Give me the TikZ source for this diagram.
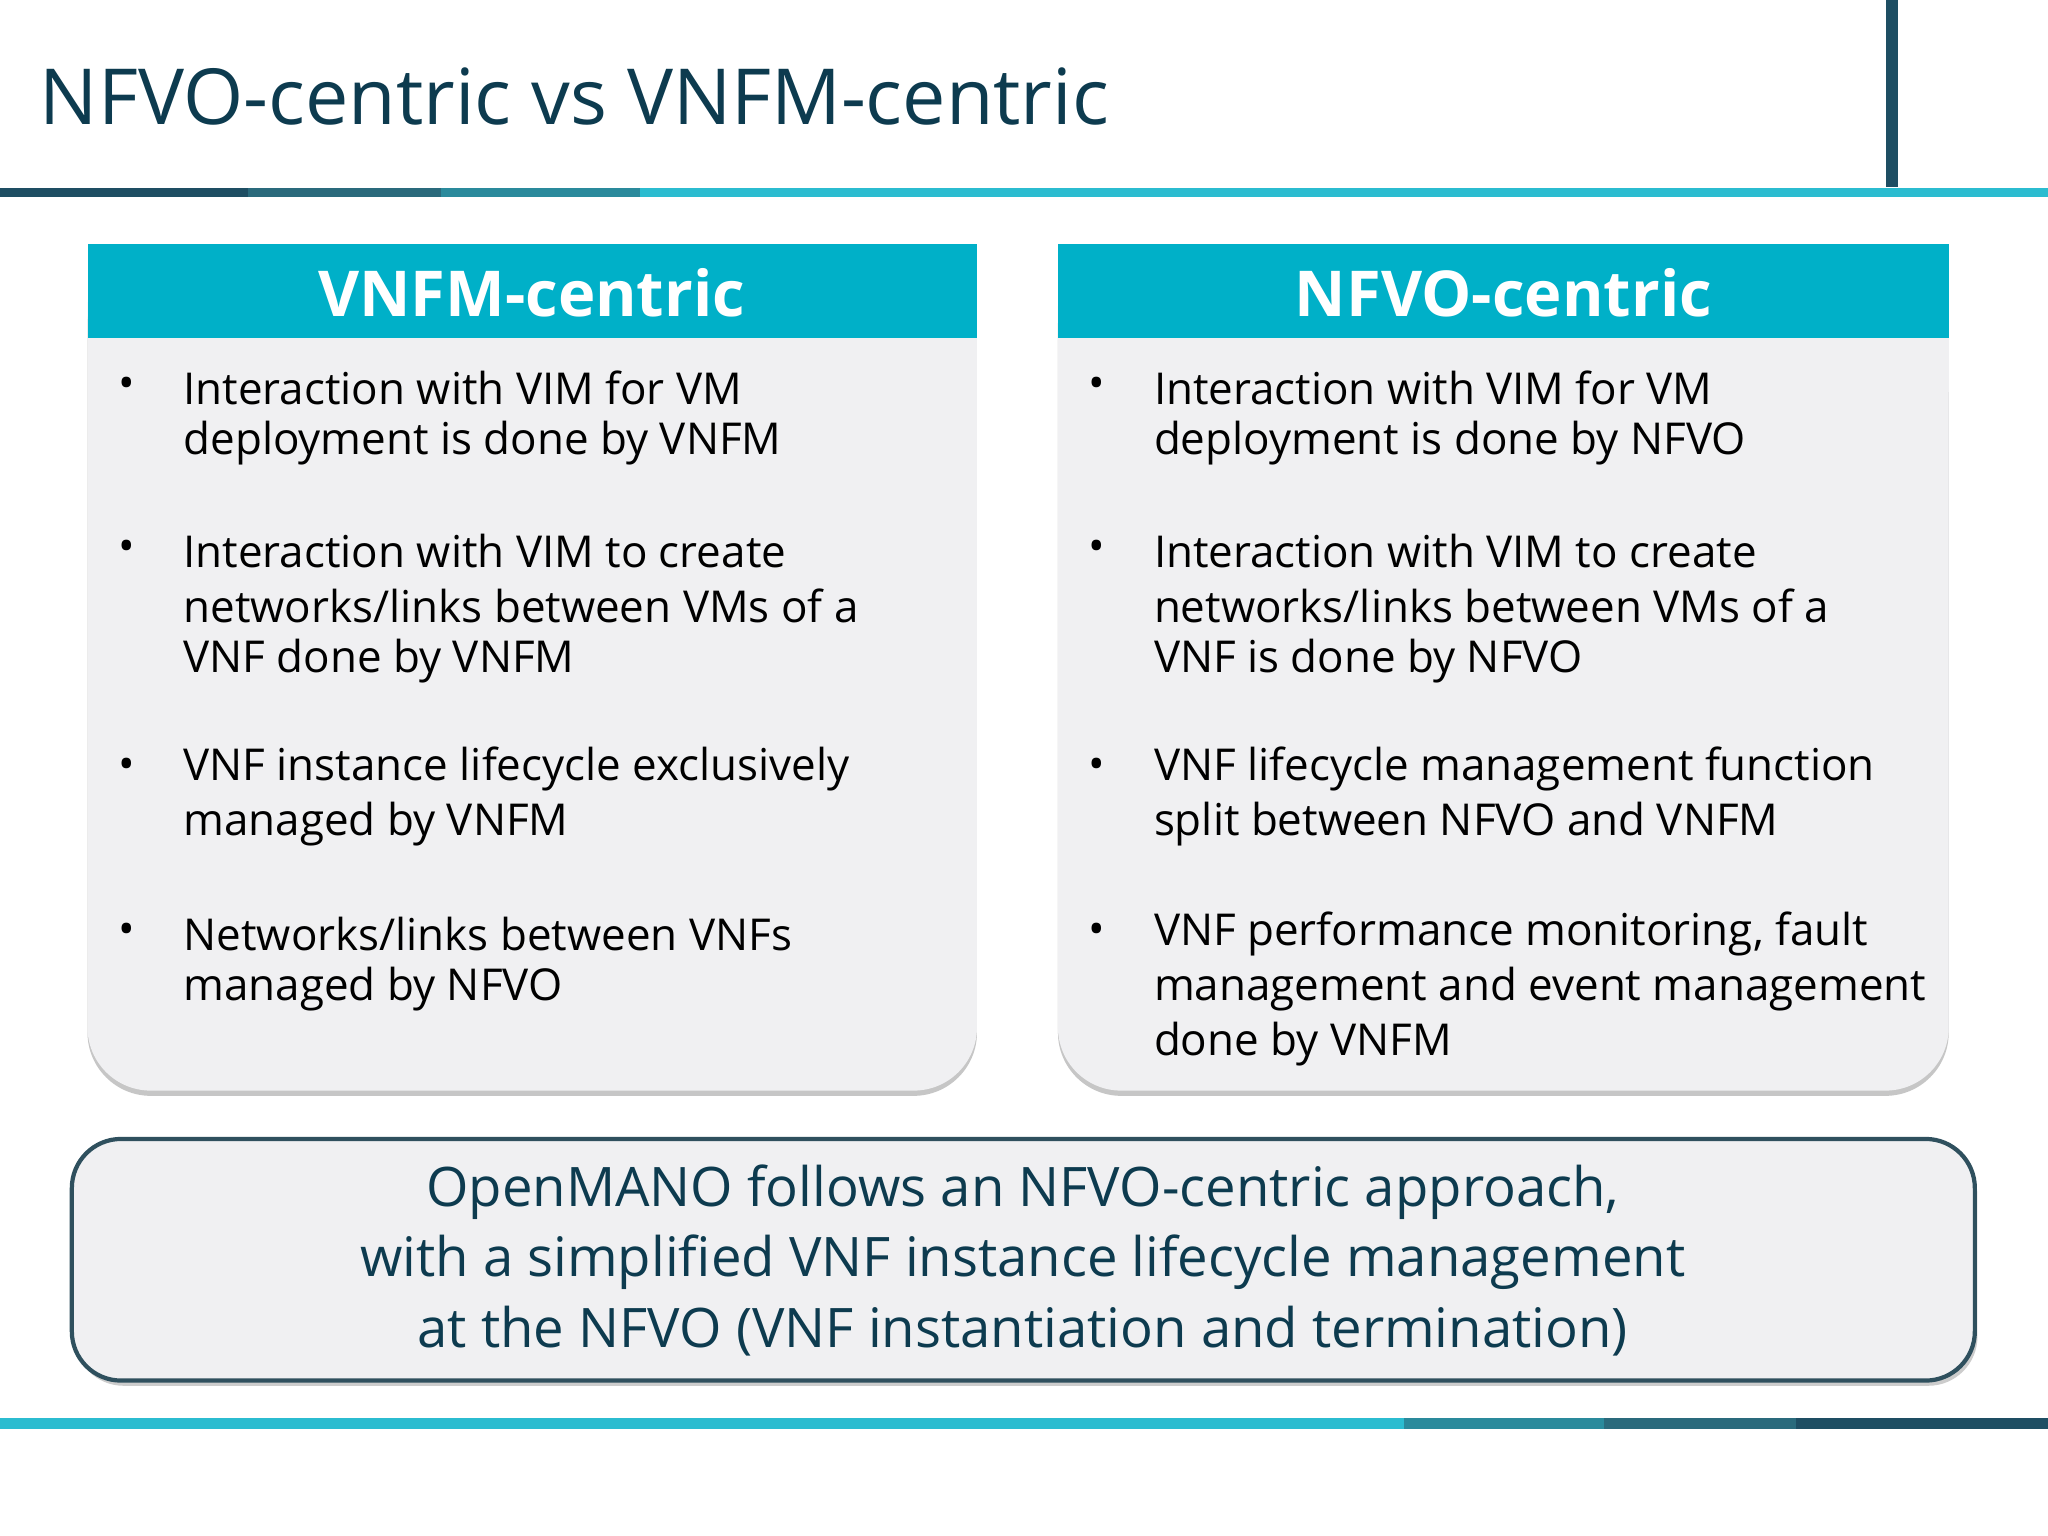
\documentclass[tikz,border=0pt]{standalone}
\usepackage{fontspec}
\setmainfont{Open Sans}
\usetikzlibrary{shadows}
\definecolor{dk}{HTML}{0D3B4F}
\definecolor{cy}{HTML}{00B0C8}
\definecolor{lc}{HTML}{2BBCD0}
\definecolor{m1}{HTML}{1E4E63}
\definecolor{m2}{HTML}{2A6A7C}
\definecolor{m3}{HTML}{2A8A9C}
\definecolor{bg}{HTML}{F0F0F2}
\tikzset{
 txt/.style={anchor=west,inner sep=0pt,font=\fontsize{12.5}{14}\selectfont,text=black},
 bul/.style={anchor=center,inner sep=0pt,font=\fontsize{12.5}{14}\selectfont},
 hdr/.style={inner sep=0pt,font=\fontsize{18}{20}\selectfont\bfseries,text=white},
 btxt/.style={inner sep=0pt,font=\fontsize{15.5}{18}\selectfont,text=dk}
}
\begin{document}
\begin{tikzpicture}[x=0.01306cm,y=-0.01306cm]
\fill[white] (0,0) rectangle (1568,1176);
\useasboundingbox (0,0) rectangle (1568,1176);
\node[anchor=west,inner sep=0pt,font=\fontsize{22}{24}\selectfont,text=dk] (title) at (30,74) {NFVO-centric vs VNFM-centric};
\fill[m1] (0,144) rectangle (190,151);
\fill[m2] (190,144) rectangle (338,151);
\fill[m3] (338,144) rectangle (490,151);
\fill[lc] (490,144) rectangle (1568,151);
\fill[m1] (1444,0) rectangle (1453,143);
\fill[lc] (0,1086) rectangle (1075,1094);
\fill[m3] (1075,1086) rectangle (1228,1094);
\fill[m2] (1228,1086) rectangle (1375,1094);
\fill[m1] (1375,1086) rectangle (1568,1094);
% boxes
\foreach \xa/\xb/\yb in {67/748/835, 810/1492/835}{
 \fill[gray!45,rounded corners=18pt] (\xa,200) rectangle (\xb,\yb+4);
 \fill[bg,rounded corners=18pt] (\xa,187) rectangle (\xb,\yb);
 \fill[bg] (\xa,187) rectangle (\xb,300);
 \fill[cy] (\xa,187) rectangle (\xb,259);
}
\node[hdr] (h1) at (407,224) {VNFM-centric};
\node[hdr] (h2) at (1151,224) {NFVO-centric};
\foreach \y/\t [count=\i] in {297/{Interaction with VIM for VM}, 339/{deployment is done by VNFM}, 422/{Interaction with VIM to create}, 464/{networks/links between VMs of a}, 506/{VNF done by VNFM}, 589/{VNF instance lifecycle exclusively}, 631/{managed by VNFM}, 715/{Networks/links between VNFs}, 757/{managed by NFVO}}
 \node[txt] (l\i) at (140,\y) {\t};
\foreach \y/\t [count=\i] in {297/{Interaction with VIM for VM}, 339/{deployment is done by NFVO}, 422/{Interaction with VIM to create}, 464/{networks/links between VMs of a}, 506/{VNF is done by NFVO}, 589/{VNF lifecycle management function}, 631/{split between NFVO and VNFM}, 715/{VNF performance monitoring, fault}, 757/{management and event management}, 799/{done by VNFM}}
 \node[txt] (r\i) at (883,\y) {\t};
\foreach \y [count=\i] in {297,422,589,715}{
 \node[bul] (bl\i) at (97,\y) {•};
 \node[bul] (br\i) at (840,\y) {•};
}
\fill[gray!40,rounded corners=14pt] (57,878) rectangle (1514,1061);
\node[draw=dk!70!gray,line width=1.2pt,fill=bg,rounded corners=14pt,minimum width=1457*0.01306cm,minimum height=185*0.01306cm] (bot) at (783.5,964.5) {};
\node[btxt] (b1) at (783,913) {OpenMANO follows an NFVO-centric approach,};
\node[btxt] (b2) at (783,966) {with a simplified VNF instance lifecycle management};
\node[btxt] (b3) at (783,1019) {at the NFVO (VNF instantiation and termination)};
\end{tikzpicture}
\end{document}
